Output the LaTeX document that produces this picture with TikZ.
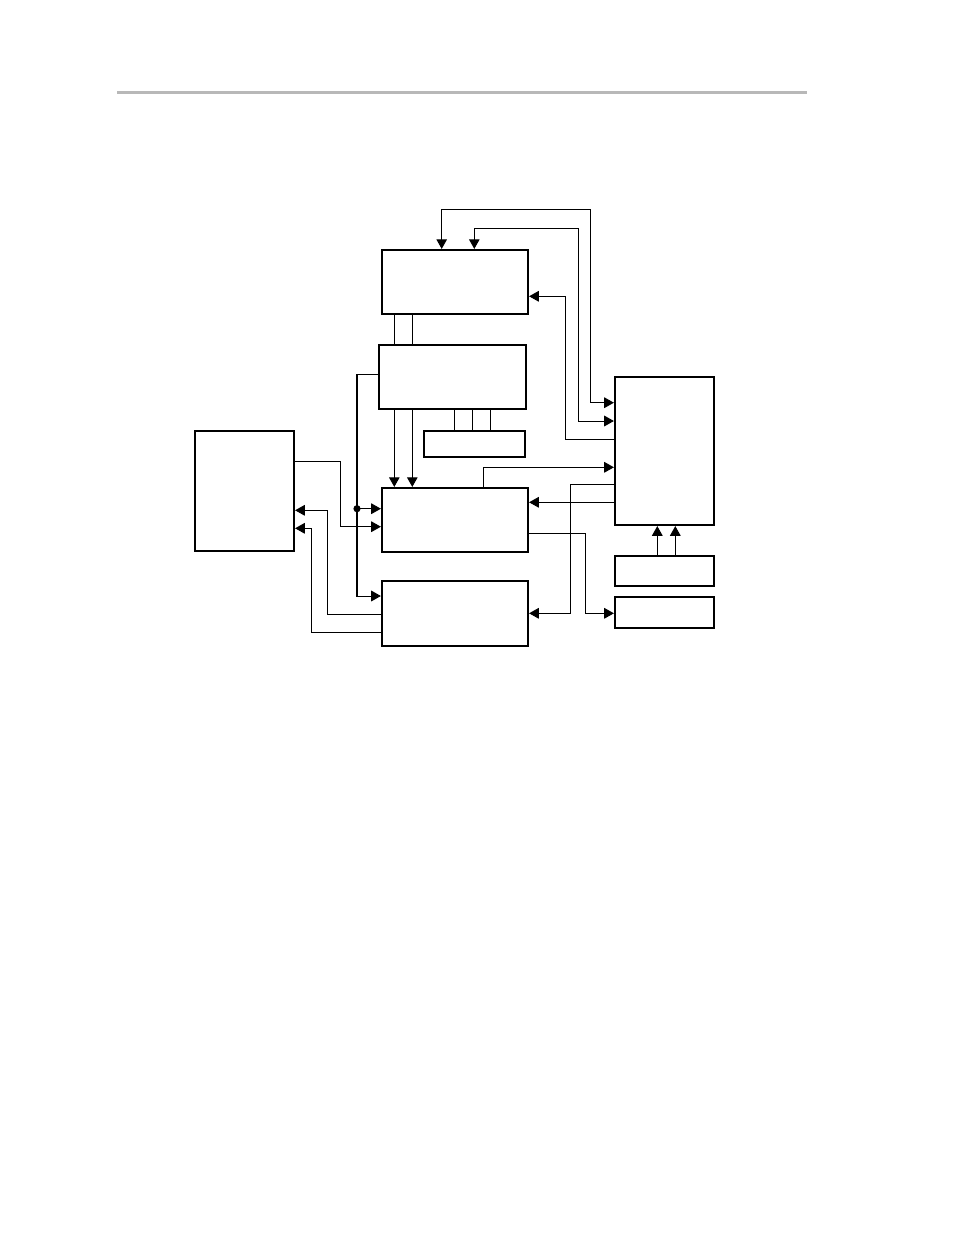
\documentclass[tikz,border=0pt]{standalone}
\usepackage{tikz}
\usetikzlibrary{arrows.meta}
\definecolor{RuleGray}{RGB}{184,184,184}

\begin{document}
\begin{tikzpicture}[x=0.6415pt, y=-0.6415pt]
				\tikzstyle{every node}=[draw, line width=1.4pt, inner sep=0pt];
				\tikzstyle{wire}=[line width=0.65pt];
				\tikzstyle{arr}=[wire, -{Triangle[length=6.2pt, width=6.8pt]}];
				\tikzstyle{arrs}=[wire, {Triangle[length=6.2pt, width=6.8pt]}-{Triangle[length=6.2pt, width=6.8pt]}];
				\useasboundingbox (0,0) rectangle (954,1235);
				\draw[RuleGray, line width=1.9pt] (117,92.3) -- (806.7,92.3);
				\node [minimum width=146*0.6415pt, minimum height=64*0.6415pt] (n1) at (455, 282) {};
				\node [minimum width=147*0.6415pt, minimum height=64*0.6415pt] (n2) at (452.5, 377) {};
				\node [minimum width=101*0.6415pt, minimum height=26*0.6415pt] (n3) at (474.5, 444) {};
				\node [minimum width=99*0.6415pt, minimum height=120*0.6415pt] (n4) at (244.5, 491) {};
				\node [minimum width=146*0.6415pt, minimum height=64*0.6415pt] (n5) at (455, 520) {};
				\node [minimum width=146*0.6415pt, minimum height=65*0.6415pt] (n6) at (455, 613.5) {};
				\node [minimum width=99*0.6415pt, minimum height=148*0.6415pt] (n7) at (664.5, 451) {};
				\node [minimum width=99*0.6415pt, minimum height=30*0.6415pt] (n8) at (664.5, 571) {};
				\node [minimum width=99*0.6415pt, minimum height=31*0.6415pt] (n9) at (664.5, 612.5) {};
				\draw[wire] (n1.south -| 394.3,0) -- (n2.north -| 394.3,0);
				\draw[wire] (n1.south -| 412.3,0) -- (n2.north -| 412.3,0);
				\draw[wire] (n2.south -| 454.3,0) -- (n3.north -| 454.3,0);
				\draw[wire] (n2.south -| 472.7,0) -- (n3.north -| 472.7,0);
				\draw[wire] (n2.south -| 490.7,0) -- (n3.north -| 490.7,0);
				\draw[arr] (n2.south -| 394.3,0) -- (n5.north -| 394.3,0);
				\draw[arr] (n2.south -| 412.3,0) -- (n5.north -| 412.3,0);
				\coordinate (dot) at (357, 508.7);
				\draw[arr] (n2.west |- 0,374) -| (dot) |- (n6.west |- 0,596);
				\draw[arr] (dot) -- (n5.west |- dot);
				\fill (dot) circle (2.3pt);
				\draw[arr] (n4.east |- 0,461.3) -| (340.3,526.7) -- (n5.west |- 0,526.7);
				\draw[arr] (n6.west |- 0,614) -| (327.7,510.3) -- (n4.east |- 0,510.3);
				\draw[arr] (n6.west |- 0,632.3) -| (311.3,528.3) -- (n4.east |- 0,528.3);
				\draw[arrs] (n1.north -| 441.7,0) |- (590.3,209.3) |- (n7.west |- 0,402.7);
				\draw[arrs] (n1.north -| 474.3,0) |- (578.3,228.3) |- (n7.west |- 0,421);
				\draw[arr] (n7.west |- 0,439.3) -| (565.3,296.3) -- (n1.east |- 0,296.3);
				\draw[arr] (n5.north -| 483.3,0) |- (n7.west |- 0,467.3);
				\draw[arr] (n7.west |- 0,484) -| (570.3,613.3) -- (n6.east |- 0,613.3);
				\draw[arr] (n7.west |- 0,502.3) -- (n5.east |- 0,502.3);
				\draw[arr] (n5.east |- 0,533.3) -| (585.7,613.3) -- (n9.west |- 0,613.3);
				\draw[arr] (n8.north -| 657.3,0) -- (n7.south -| 657.3,0);
				\draw[arr] (n8.north -| 675.3,0) -- (n7.south -| 675.3,0);
			\end{tikzpicture}
\end{document}
